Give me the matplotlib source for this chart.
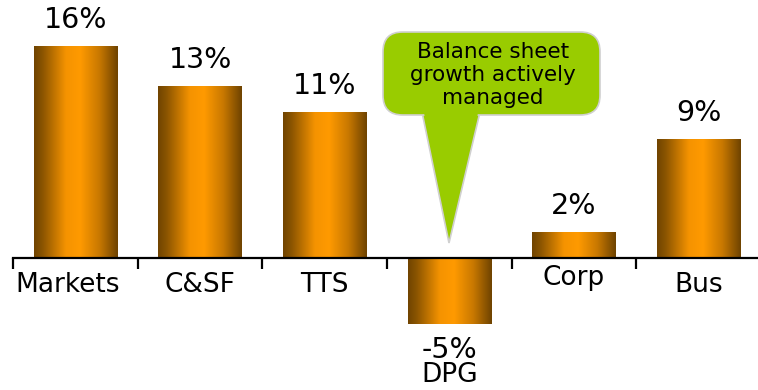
import numpy as np
import matplotlib
matplotlib.use('Agg')
import matplotlib.pyplot as plt
from matplotlib.colors import LinearSegmentedColormap
from matplotlib.patches import FancyBboxPatch, Polygon, Rectangle

# data
segments = ['Markets', 'C&SF', 'TTS', 'DPG', 'Corp', 'Bus']
growth = [16, 13, 11, -5, 2, 9]
value_labels = ['16%', '13%', '11%', '-5%', '2%', '9%']
callout_text = 'Balance sheet\ngrowth actively\nmanaged'

fig = plt.figure(figsize=(7.58, 3.90), dpi=100)
ax = fig.add_axes([0, 0, 1, 1])

# gradient bars: dark brown edges, orange centre
cmap = LinearSegmentedColormap.from_list(
    'bar', [(0.0, '#704400'), (0.1, '#8a5400'), (0.38, '#f59300'),
            (0.55, '#ff9a00'), (0.78, '#c87800'), (1.0, '#6e4300')])
grad = np.linspace(0, 1, 256).reshape(1, -1)
width = 0.67
x = np.arange(len(segments))
for xi, v in zip(x, growth):
    x0, x1 = xi - width / 2, xi + width / 2
    y0, y1 = min(0, v), max(0, v)
    im = ax.imshow(grad, cmap=cmap, aspect='auto', extent=[x0, x1, y0, y1],
                   interpolation='bicubic', zorder=2)
    clip = Rectangle((x0, y0), width, y1 - y0, transform=ax.transData)
    im.set_clip_path(clip)

ax.set_xlim(-0.606, 5.477)
ax.set_ylim(-9.96, 19.47)

# axis line with category separators
for s in ['top', 'right', 'left']:
    ax.spines[s].set_visible(False)
ax.spines['bottom'].set_position(('data', 0))
ax.spines['bottom'].set_bounds(-0.5, 5.477)
ax.spines['bottom'].set_linewidth(1.6)
ax.spines['bottom'].set_zorder(3)
ax.set_xticks(np.arange(-0.5, 5, 1))
ax.set_xticklabels([])
ax.tick_params(axis='x', direction='out', length=8, width=1.6)
ax.set_yticks([])

val_font = 'DejaVu Sans'
cat_font = 'DejaVu Sans'
for xi, v, lab, seg in zip(x, growth, value_labels, segments):
    if v >= 0:
        ax.text(xi, v + 1.95, lab, ha='center', va='center', fontsize=20.5,
                family=val_font)
        cy = -1.5 if seg == 'Corp' else -2.05
        ax.text(xi - (0.06 if seg == 'Markets' else 0), cy, seg,
                ha='center', va='center', fontsize=19, family=cat_font)
    else:
        ax.text(xi, v - 1.95, lab, ha='center', va='center', fontsize=20.5,
                family=val_font)
        ax.text(xi, v - 3.85, seg, ha='center', va='center', fontsize=19,
                family=cat_font)

# callout bubble pointing at DPG
green = '#99cc00'
edge = '#d0d0d0'
tail = Polygon([(422 / 758, 1 - 112 / 390), (480 / 758, 1 - 112 / 390),
                (449 / 758, 1 - 243 / 390)], closed=True,
               transform=fig.transFigure, facecolor=green, edgecolor=edge,
               linewidth=1.2, zorder=4)
ax.add_patch(tail)
box = FancyBboxPatch((383 / 758, 1 - 115 / 390), 217 / 758, 83 / 390,
                     boxstyle='round,pad=0,rounding_size=0.026',
                     transform=fig.transFigure, facecolor=green,
                     edgecolor=edge, linewidth=1.2, zorder=5,
                     mutation_aspect=758 / 390)
ax.add_patch(box)
cover = Polygon([(423.5 / 758, 1 - 110 / 390), (478.5 / 758, 1 - 110 / 390),
                 (477 / 758, 1 - 118 / 390), (425 / 758, 1 - 118 / 390)],
                closed=True, transform=fig.transFigure, facecolor=green,
                edgecolor='none', zorder=6)
ax.add_patch(cover)
fig.text(493 / 758, 1 - 75 / 390, callout_text, ha='center', va='center',
         fontsize=15.5, family='DejaVu Sans', linespacing=1.2, zorder=7)

fig.savefig('out.png', dpi=100)
